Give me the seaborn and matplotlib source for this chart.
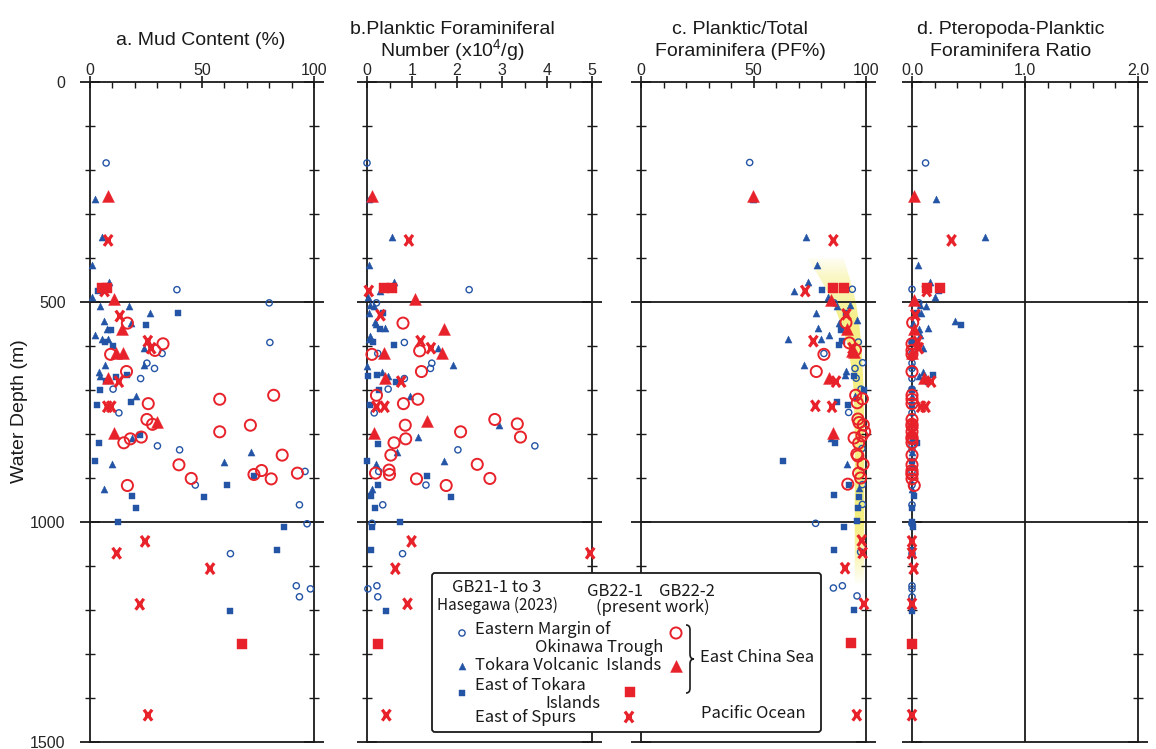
import numpy as np
import pandas as pd
import matplotlib
matplotlib.use("Agg")
import matplotlib.pyplot as plt
import seaborn as sns
from matplotlib.patches import Polygon, FancyBboxPatch, PathPatch
from matplotlib.path import Path
from matplotlib.ticker import MultipleLocator

# ---------------- DATA: (value, water depth m) ----------------
# a. Mud content (%)
mud_emot21 = [(7.2,184),(38.8,472),(80,502),(80.3,592),(32.2,617),(25.4,639),(28.8,651),(22.6,674),(10.3,698),
              (12.9,752),(30.1,827),(40,836),(96,885),(47,916),(93.5,961),(96.9,1004),(62.7,1072),(92.1,1145),
              (98.4,1152),(93.5,1170)]
mud_tvi21 = [(2.2,267),(5.5,352),(1.0,416),(8.7,455),(1.0,489),(4.3,509),(17.3,508),(26.6,524),(6.2,544),(18.3,548),
             (7.7,562),(2.4,575),(5.3,585),(8.0,583),(24.2,604),(24.2,643),(6.9,643),(4.0,658),(4.3,669),(20.4,714),
             (18.6,808),(72,841),(60,863),(9.9,869),(6.1,925)]
mud_eti21 = [(3.5,474),(39.4,524),(24.8,553),(9.2,563),(6.6,590),(10.2,599),(16.4,667),(11.7,670),(7.1,680),(4.4,701),
             (18.2,727),(3.1,735),(22.3,802),(4.1,821),(2.4,862),(73,895),(61,917),(18.8,942),(50.8,944),(20.7,969),
             (12.7,1000),(86.8,1012),(83.7,1064),(62.4,1203)]
mud_emot22 = [(16.7,548),(32.6,595),(29,610),(9.2,619),(16.3,658),(82,712),(57.9,721),(26,731),(25.4,767),(27.9,778),
              (71.6,780),(57.9,795),(22.9,807),(18,811),(15.1,820),(85.8,848),(39.7,870),(76.6,883),(92.6,889),
              (73.2,892),(45.2,901),(80.9,902),(16.7,917)]
mud_tvi22 = [(8.1,258),(10.9,494),(14.5,561),(11.8,616),(14.6,616),(8.0,673),(29.7,772),(10.6,798)]
mud_eti22 = [(5.2,469),(7.6,469),(68,1277)]
mud_eos22 = [(8.1,360),(6.5,475),(13.3,532),(25.8,589),(27.3,605),(12.9,681),(7.7,738),(9.5,738),(24.6,1044),
             (11.9,1071),(53.6,1106),(22.2,1187),(25.9,1439)]

# b. Planktic foraminiferal number (x10^4/g)
num_emot21 = [(0.0,184),(2.27,472),(0.21,502),(0.83,592),(0.24,617),(1.44,639),(1.41,651),(0.83,674),(0.47,698),
              (0.16,752),(3.73,827),(2.02,836),(0.26,885),(1.31,916),(0.35,961),(0.11,1003),(0.79,1072),
              (0.22,1145),(0.02,1152),(0.24,1170)]
num_tvi21 = [(0.04,267),(0.56,352),(0.04,416),(0.59,455),(0.28,475),(0.02,489),(0.07,507),(0.16,509),(0.04,524),
             (0.17,545),(0.21,551),(0.41,560),(0.06,577),(0.04,585),(1.57,604),(1.92,643),(0.01,645),(0.34,658),
             (0.47,669),(0.96,714),(2.94,780),(1.14,807),(0.67,841),(1.70,862),(0.21,869),(0.10,924)]
num_eti21 = [(0.36,525),(0.28,562),(0.13,590),(0.6,598),(0.23,667),(0.02,669),(0.64,681),(0.26,701),(0.07,733),
             (0.24,822),(0.01,862),(1.33,896),(0.24,916),(0.09,942),(1.87,944),(0.18,969),(0.73,1000),(0.10,1012),
             (0.08,1064),(0.42,1203)]
num_emot22 = [(0.8,548),(1.17,611),(0.11,619),(1.21,658),(0.21,712),(1.13,721),(0.81,731),(2.84,767),(3.34,777),
              (0.85,780),(2.08,795),(3.41,807),(0.86,811),(0.6,820),(0.53,848),(2.45,869),(0.49,882),(0.19,889),
              (0.50,892),(2.73,901),(1.10,902),(1.76,917)]
num_tvi22 = [(0.12,258),(1.06,494),(1.70,561),(1.66,616),(0.37,616),(0.39,672),(1.33,771),(0.15,798)]
num_eti22 = [(0.38,469),(0.56,469),(0.25,1277)]
num_eos22 = [(0.93,360),(0.04,475),(0.30,530),(1.19,589),(1.42,605),(0.76,681),(0.21,738),(0.39,738),(0.99,1044),
             (4.96,1071),(0.63,1106),(0.90,1186),(0.43,1439)]

# c. Planktic/Total foraminifera (PF%)
pf_emot21 = [(48.3,183),(93.9,471),(85.8,502),(96.6,591),(81.3,617),(98.5,638),(95.1,651),(95.6,673),(97.8,698),
             (92.3,751),(98.2,833),(98.4,915),(98.4,960),(77.6,1003),(97.6,1068),(89.5,1145),(85.5,1150),(96,1168)]
pf_tvi21 = [(49.6,267),(73.5,352),(78.2,416),(74.1,455),(68.1,476),(83,488),(92.7,507),(87.1,509),(77.9,524),
            (95.9,542),(88.1,547),(78.7,560),(83.6,576),(80.1,583),(65.3,585),(72.6,643),(91.1,657),(90.5,667),
            (95,714),(84.3,808),(91.6,868),(97,923)]
pf_eti21 = [(80.4,472),(91.3,524),(88.9,563),(89.3,588),(88,597),(94.7,669),(99,701),(87,727),(91.9,733),(86.1,821),
            (63,862),(92.3,915),(85.6,939),(96.7,943),(96.4,968),(96.1,998),(90.1,1012),(85.6,1064),(94.5,1201)]
pf_emot22 = [(91.1,547),(92.6,593),(95.3,609),(81.3,619),(77.9,658),(95.4,712),(98.4,720),(96.1,729),(96.4,766),
             (96.9,774),(98.8,779),(99.4,795),(98.2,804),(94.7,809),(96.7,821),(95.9,846),(96.4,850),(98.7,869),
             (96.7,889),(97.6,900),(91.9,914)]
pf_tvi22 = [(49.9,258),(84.4,495),(91.4,561),(93.8,611),(94.8,614),(83.6,673),(85.2,797)]
pf_eti22 = [(85.5,468),(90.4,468),(93.3,1276)]
pf_eos22 = [(85.5,360),(73,475),(91.3,528),(76.6,589),(94,605),(86.7,681),(77.5,736),(84.9,738),(98.1,1042),
            (98.5,1070),(90.7,1105),(99.1,1186),(95.9,1439)]

# d. Pteropoda-planktic foraminifera ratio
pt_emot21 = [(0.12,184),(0.0,471),(0.06,502),(0.0,592),(0.0,617),(0.0,639),(0.0,651),(0.0,674),(0.0,698),(0.0,752),
             (0.0,827),(0.0,836),(0.0,885),(0.0,916),(0.0,961),(0.0,1004),(0.0,1072),(0.0,1145),(0.0,1152),(0.0,1170)]
pt_tvi21 = [(0.21,267),(0.65,353),(0.05,416),(0.16,455),(0.2,488),(0.07,507),(0.12,509),(0.08,524),(0.38,543),
            (0.01,548),(0.14,560),(0.06,562),(0.07,575),(0.1,604),(0.0,643),(0.1,658),(0.065,669),(0.0,714),
            (0.0,808),(0.0,841),(0.0,869),(0.0,925)]
pt_eti21 = [(0.24,475),(0.04,524),(0.43,553),(0.0,590),(0.19,667),(0.14,681),(0.0,701),(0.0,735),(0.045,821),
            (0.0,862),(0.02,942),(0.0,969),(0.0,1000),(0.01,1012),(0.0,1064),(0.0,1203)]
pt_emot22 = [(0.006,547),(0.0,595),(0.0,610),(0.0,619),(0.0,658),(0.0,712),(0.0,721),(0.0,731),(0.0,767),(0.0,778),
             (0.0,782),(0.0,795),(0.0,807),(0.0,811),(0.0,820),(0.0,848),(0.0,870),(0.0,883),(0.0,889),(0.0,892),
             (0.0,902),(0.02,917)]
pt_tvi22 = [(0.015,258),(0.015,495),(0.02,561),(0.0,616),(0.11,673),(0.0,772),(0.0,798)]
pt_eti22 = [(0.13,468),(0.25,468),(0.0,1277)]
pt_eos22 = [(0.35,360),(0.13,475),(0.03,530),(0.05,590),(0.06,605),(0.17,681),(0.08,738),(0.12,738),(0.0,1044),
            (0.0,1071),(0.015,1106),(0.0,1186),(0.0,1439)]

# highlight band in panel c (depth, left PF%, right PF%)
band_depth = [400, 450, 500, 550, 600, 650, 700, 800, 900, 1000, 1100, 1140]
band_left = [74, 80, 85, 89, 92, 93.5, 94.5, 95, 95, 95, 95, 95]
band_right = [90, 93, 95.5, 97, 98, 98.5, 99, 99.2, 99.2, 99.2, 99, 99]

title_lines = [["a. Mud Content (%)"],
               ["b.Planktic Foraminiferal", "Number (x10$^4$/g)"],
               ["c. Planktic/Total", "Foraminifera (PF%)"],
               ["d. Pteropoda-Planktic", "Foraminifera Ratio"]]
xticks_list = [[0, 50, 100], [0, 1, 2, 3, 4, 5], [0, 50, 100], [0.0, 1.0, 2.0]]
xticklabels_list = [["0", "50", "100"], ["0", "1", "2", "3", "4", "5"], ["0", "50", "100"], ["0.0", "1.0", "2.0"]]
depth_ticks = [0, 500, 1000, 1500]

# ---------------- STYLE ----------------
sns.set_theme(style="white")
plt.rcParams["font.family"] = ["Liberation Sans", "DejaVu Sans"]
plt.rcParams["mathtext.default"] = "regular"

BLUE = "#2354a5"
RED = "#e8222a"
INK = "#1a1a1a"
W, H = 1156, 749

fig = plt.figure(figsize=(W / 100, H / 100), dpi=100)


def fx(px):
    return px / W


def fy(py):
    return 1 - py / H


XMARK = Path([(-0.75, -1.0), (0.75, 1.0), (-0.75, 1.0), (0.75, -1.0), (-0.5, 0.0), (0.5, 0.0)],
             [Path.MOVETO, Path.LINETO, Path.MOVETO, Path.LINETO, Path.MOVETO, Path.LINETO])

styles = {
    "emot21": dict(marker="o", s=20, facecolor="none", edgecolor=BLUE, linewidth=1.0),
    "tvi21": dict(marker="^", s=26, color=BLUE, edgecolor=BLUE, linewidth=0.3),
    "eti21": dict(marker="s", s=16, color=BLUE, edgecolor=BLUE, linewidth=0.3),
    "emot22": dict(marker="o", s=64, facecolor="none", edgecolor=RED, linewidth=1.4),
    "tvi22": dict(marker="^", s=74, color=RED, edgecolor=RED, linewidth=0.3),
    "eti22": dict(marker="s", s=58, color=RED, edgecolor=RED, linewidth=0.3),
    "eos22": dict(marker=XMARK, s=62, facecolor="none", edgecolor=RED, linewidth=2.3),
}
order = ["emot21", "tvi21", "eti21", "emot22", "tvi22", "eti22", "eos22"]

panels = [
    dict(emot21=mud_emot21, tvi21=mud_tvi21, eti21=mud_eti21, emot22=mud_emot22, tvi22=mud_tvi22, eti22=mud_eti22, eos22=mud_eos22),
    dict(emot21=num_emot21, tvi21=num_tvi21, eti21=num_eti21, emot22=num_emot22, tvi22=num_tvi22, eti22=num_eti22, eos22=num_eos22),
    dict(emot21=pf_emot21, tvi21=pf_tvi21, eti21=pf_eti21, emot22=pf_emot22, tvi22=pf_tvi22, eti22=pf_eti22, eos22=pf_eos22),
    dict(emot21=pt_emot21, tvi21=pt_tvi21, eti21=pt_eti21, emot22=pt_emot22, tvi22=pt_tvi22, eti22=pt_eti22, eos22=pt_eos22),
]
xlims = [(0, 100), (0, 5), (0, 100), (0, 2)]
minors = [10, 0.5, 10, 0.2]
panel_px = [(90, 314), (367, 592), (641, 866), (912, 1138)]
title_x = [201, 452, 740, 1011]
top_px, bot_px = 82, 742

for i, (l, r) in enumerate(panel_px):
    ax = fig.add_axes([fx(l), fy(bot_px), (r - l) / W, (bot_px - top_px) / H])
    ax.set_facecolor("white")

    if i == 2:
        poly = np.column_stack([np.concatenate([band_left, band_right[::-1]]),
                                np.concatenate([band_depth, band_depth[::-1]])])
        patch = Polygon(poly, closed=True, facecolor="none", edgecolor="none")
        ax.add_patch(patch)
        n = 600
        grid = np.linspace(0, 1500, n)
        alpha = np.interp(grid, [390, 440, 540, 1000, 1080, 1145], [0.0, 0.35, 0.75, 0.8, 0.45, 0.0])
        img = np.zeros((n, 1, 4))
        img[:, 0, 0], img[:, 0, 1], img[:, 0, 2] = 0.95, 0.92, 0.38
        img[:, 0, 3] = alpha
        im = ax.imshow(img, extent=[0, 100, 1500, 0], aspect="auto", interpolation="bilinear", zorder=0.5)
        im.set_clip_path(patch)

    for g in order:
        df = pd.DataFrame(panels[i][g], columns=["value", "depth"])
        sns.scatterplot(data=df, x="value", y="depth", ax=ax, legend=False, zorder=3, clip_on=False, **styles[g])

    ax.set_xlim(*xlims[i])
    ax.set_ylim(1500, 0)
    ax.set_xlabel("")
    ax.set_ylabel("")

    for d in (500, 1000):
        ax.axhline(d, color=INK, lw=1.3, zorder=2)
    if i == 3:
        ax.axvline(1.0, color=INK, lw=1.3, zorder=2)

    for sp in ax.spines.values():
        sp.set_visible(True)
        sp.set_color(INK)
        sp.set_linewidth(1.3)

    ax.xaxis.set_ticks_position("top")
    ax.set_xticks(xticks_list[i])
    ax.set_xticklabels(xticklabels_list[i])
    ax.xaxis.set_minor_locator(MultipleLocator(minors[i]))
    ax.tick_params(axis="x", which="major", direction="inout", length=9, width=1.2, color=INK,
                   top=True, bottom=False, labeltop=True, labelbottom=False, labelsize=11.5, pad=-1.7)
    ax.tick_params(axis="x", which="minor", direction="in", length=4, width=1.0, color=INK,
                   top=True, bottom=False)

    ax.set_yticks(depth_ticks)
    ax.yaxis.set_minor_locator(MultipleLocator(100))
    ax.tick_params(axis="y", which="major", direction="inout", length=15, width=1.3, color=INK,
                   left=True, right=True, labelleft=(i == 0), labelright=False, labelsize=11.5, pad=10)
    ax.tick_params(axis="y", which="minor", direction="inout", length=7, width=1.0, color=INK,
                   left=True, right=True)

    lines = title_lines[i]
    baselines = [45] if len(lines) == 1 else [33.5, 56]
    for line, b in zip(lines, baselines):
        fig.text(fx(title_x[i]), fy(b), line, ha="center", va="baseline", fontsize=14, color=INK)

fig.text(fx(20), fy(411), "Water Depth (m)", rotation=90, ha="center", va="center", fontsize=14, color=INK)

# ---------------- LEGEND ----------------
lax = fig.add_axes([fx(420), fy(745), (835 - 420) / W, (745 - 560) / H], zorder=10)
lax.set_xlim(420, 835)
lax.set_ylim(745, 560)
lax.axis("off")
lax.add_patch(FancyBboxPatch((432, 573), 389, 159, boxstyle="round,pad=0,rounding_size=3",
                             facecolor="white", edgecolor=INK, linewidth=1.3))
LF = ["Noto Sans CJK JP", "DejaVu Sans"]
txt = dict(family=LF, color=INK, fontsize=12)
lax.text(497, 588, "GB21-1 to 3", ha="center", va="center", **txt)
lax.text(497, 605, "Hasegawa (2023)", ha="center", va="center", family=LF, color=INK, fontsize=11)
lax.text(615, 592, "GB22-1", ha="center", va="center", **txt)
lax.text(687, 592, "GB22-2", ha="center", va="center", **txt)
lax.text(653, 607, "(present work)", ha="center", va="center", **txt)
lax.text(475, 630, "Eastern Margin of", ha="left", va="center", **txt)
lax.text(663, 648, "Okinawa Trough", ha="right", va="center", **txt)
lax.text(475, 666, "Tokara Volcanic  Islands", ha="left", va="center", **txt)
lax.text(475, 686, "East of Tokara", ha="left", va="center", **txt)
lax.text(573, 703, "Islands", ha="center", va="center", **txt)
lax.text(475, 718, "East of Spurs", ha="left", va="center", **txt)
lax.text(700, 658, "East China Sea", ha="left", va="center", **txt)
lax.text(701, 714, "Pacific Ocean", ha="left", va="center", **txt)

leg_marks = [("emot21", 462, 633), ("tvi21", 462, 666), ("eti21", 462, 693),
             ("emot22", 676, 633), ("tvi22", 676, 666), ("eti22", 630, 692), ("eos22", 629, 717)]
for g, x, y in leg_marks:
    kw = dict(styles[g])
    lax.scatter([x], [y], zorder=12, **kw)

verts = [(686, 625), (689, 625), (690, 627), (690, 630), (690, 654),
         (690, 657), (691, 659), (694, 659),
         (691, 659), (690, 661), (690, 664), (690, 688),
         (690, 691), (689, 693), (686, 693)]
codes = [Path.MOVETO, Path.CURVE4, Path.CURVE4, Path.CURVE4, Path.LINETO,
         Path.CURVE4, Path.CURVE4, Path.CURVE4,
         Path.CURVE4, Path.CURVE4, Path.CURVE4, Path.LINETO,
         Path.CURVE4, Path.CURVE4, Path.CURVE4]
lax.add_patch(PathPatch(Path(verts, codes), facecolor="none", edgecolor=INK, linewidth=1.2, zorder=12))

fig.savefig("out.png", dpi=100, facecolor="white")
